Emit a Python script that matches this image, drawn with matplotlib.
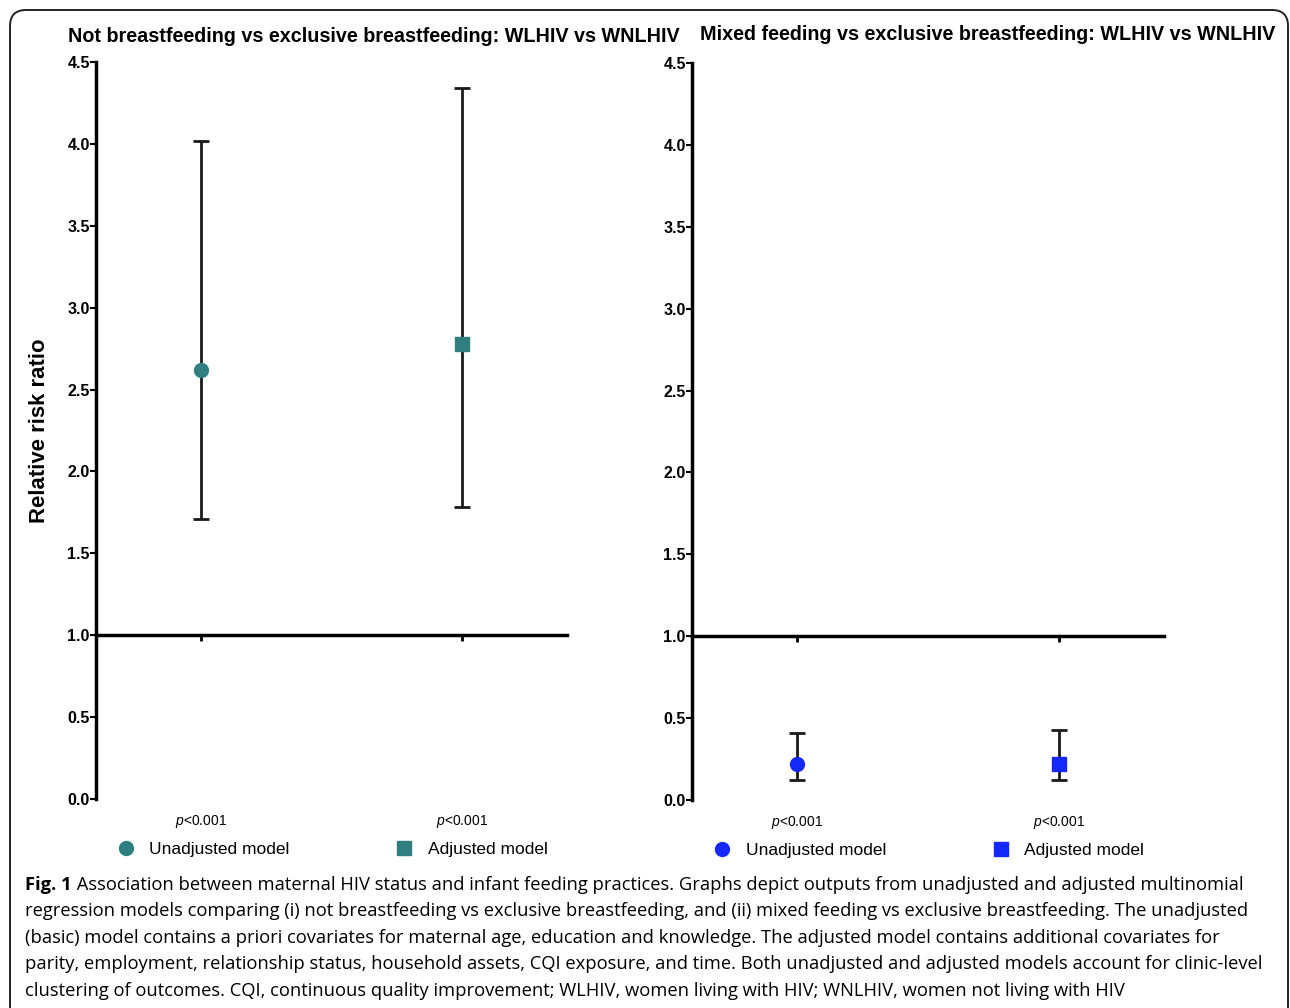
import matplotlib
matplotlib.use("Agg")
import matplotlib.pyplot as plt
from matplotlib.lines import Line2D
from matplotlib.patches import FancyBboxPatch
from matplotlib.transforms import IdentityTransform, blended_transform_factory

plt.rcParams['font.family'] = ['Liberation Sans', 'DejaVu Sans']
plt.rcParams['mathtext.fontset'] = 'custom'
plt.rcParams['mathtext.it'] = 'Liberation Sans:italic'
plt.rcParams['mathtext.rm'] = 'Liberation Sans'

# data
models = ["Unadjusted model", "Adjusted model"]
p_values = ["<0.001", "<0.001"]

not_bf_rr = [2.62, 2.78]
not_bf_lo = [1.71, 1.78]
not_bf_hi = [4.02, 4.34]

mixed_rr = [0.22, 0.22]
mixed_lo = [0.12, 0.12]
mixed_hi = [0.41, 0.43]

titles = ["Not breastfeeding vs exclusive breastfeeding: WLHIV vs WNLHIV",
          "Mixed feeding vs exclusive breastfeeding: WLHIV vs WNLHIV"]

caption_lines = [
    " Association between maternal HIV status and infant feeding practices. Graphs depict outputs from unadjusted and adjusted multinomial",
    "regression models comparing (i) not breastfeeding vs exclusive breastfeeding, and (ii) mixed feeding vs exclusive breastfeeding. The unadjusted",
    "(basic) model contains a priori covariates for maternal age, education and knowledge. The adjusted model contains additional covariates for",
    "parity, employment, relationship status, household assets, CQI exposure, and time. Both unadjusted and adjusted models account for clinic-level",
    "clustering of outcomes. CQI, continuous quality improvement; WLHIV, women living with HIV; WNLHIV, women not living with HIV",
]

teal = "#2f7f80"
blue = "#1428fa"
markers = ["o", "s"]

W, H = 1290, 1008
fig = plt.figure(figsize=(W / 100, H / 100), dpi=100)

# rounded frame around the figure
frame = FancyBboxPatch((10, -22), 1278, 1020, boxstyle="round,pad=0,rounding_size=16",
                       transform=IdentityTransform(), fill=False, ec="#222222", lw=1.4)
fig.patches.append(frame)

panels = [
    dict(rect=[96 / W, 1 - 799 / H, 471 / W, 737 / H], rr=not_bf_rr, lo=not_bf_lo, hi=not_bf_hi,
         color=teal, title_x=374, title_y=36),
    dict(rect=[692 / W, 1 - 800 / H, 472 / W, 737 / H], rr=mixed_rr, lo=mixed_lo, hi=mixed_hi,
         color=blue, title_x=988, title_y=34),
]

for i, pnl in enumerate(panels):
    ax = fig.add_axes(pnl["rect"])
    x = list(range(len(models)))
    for xi in x:
        yerr = [[pnl["rr"][xi] - pnl["lo"][xi]], [pnl["hi"][xi] - pnl["rr"][xi]]]
        ax.errorbar([xi], [pnl["rr"][xi]], yerr=yerr, fmt="none", ecolor="#1a1a1a",
                    elinewidth=2, capsize=6, capthick=2, zorder=2)
        ax.plot([xi], [pnl["rr"][xi]], marker=markers[xi], ms=10, color=pnl["color"],
                ls="none", zorder=3)

    ax.set_ylim(0, 4.5)
    ax.set_xlim(-0.403, 1.403)
    ax.set_yticks([0, 0.5, 1.0, 1.5, 2.0, 2.5, 3.0, 3.5, 4.0, 4.5])
    ax.set_yticklabels([f"{v:.1f}" for v in ax.get_yticks()], fontweight="bold", fontsize=11.5)
    ax.set_xticks(x)
    ax.set_xticklabels([])
    for s in ["top", "right"]:
        ax.spines[s].set_visible(False)
    ax.spines["left"].set_linewidth(2.5)
    ax.spines["bottom"].set_linewidth(2.5)
    ax.spines["bottom"].set_position(("data", 1.0))
    ax.tick_params(axis="y", length=4, width=1.5, pad=0.5)
    ax.tick_params(axis="x", length=4, width=2)

    fig.text(pnl["title_x"] / W, 1 - pnl["title_y"] / H, titles[i], ha="center", va="center",
             fontsize=14.2, fontweight="bold")

    tr = blended_transform_factory(ax.transData, ax.transAxes)
    for xi in x:
        ax.text(xi, -0.03, r"$\mathit{p}$" + p_values[xi], transform=tr, ha="center",
                va="center", fontsize=10)

    handles = [Line2D([], [], marker=markers[k], ls="none", color=pnl["color"], ms=10,
                      label=models[k]) for k in range(len(models))]
    ax.legend(handles=handles, ncol=2, loc="center", bbox_to_anchor=(0.5, -0.068),
              frameon=False, fontsize=12.5, handletextpad=0.75, columnspacing=6.0,
              handlelength=1.2)

    if i == 0:
        ax.set_ylabel("Relative risk ratio", fontsize=15.9, fontweight="bold")
        ax.yaxis.set_label_coords(-0.098, 0.5)

# caption
cap_font = ["Open Sans", "DejaVu Sans"]
cap_size = 13.2
line_y = [885, 911, 938, 964, 991]
fig_lbl = fig.text(25 / W, 1 - line_y[0] / H, "Fig. 1", ha="left", va="center",
                   fontsize=cap_size, fontweight="bold", family=cap_font)
fig.add_artist(plt.Annotation(caption_lines[0], xy=(1, 0.5), xycoords=fig_lbl,
                              va="center", ha="left", fontsize=cap_size, family=cap_font))
for k in range(1, len(caption_lines)):
    fig.text(25 / W, 1 - line_y[k] / H, caption_lines[k], ha="left", va="center",
             fontsize=cap_size, family=cap_font)

fig.savefig("out.png", dpi=100)
